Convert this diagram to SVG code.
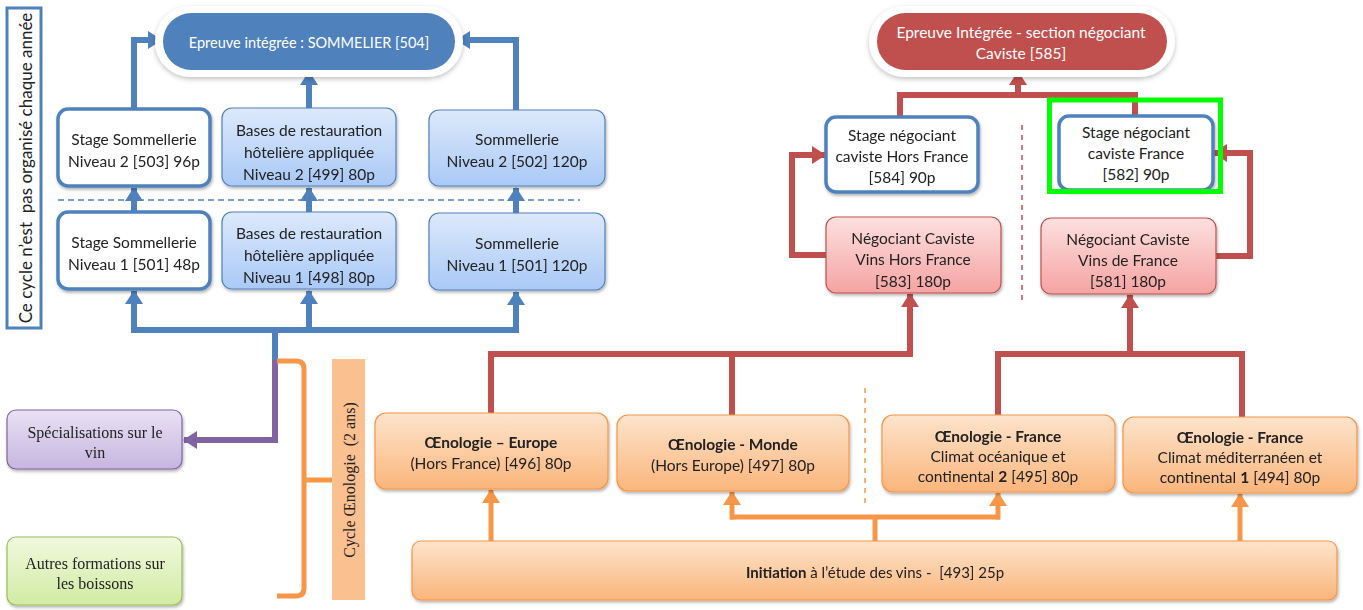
<svg xmlns="http://www.w3.org/2000/svg" width="1363" height="610" viewBox="0 0 1363 610">
<defs>
<linearGradient id="gBlue" x1="0" y1="0" x2="0" y2="1"><stop offset="0" stop-color="#dde9fb"/><stop offset="1" stop-color="#a9c9f6"/></linearGradient>
<linearGradient id="gPink" x1="0" y1="0" x2="0" y2="1"><stop offset="0" stop-color="#fde0e0"/><stop offset="1" stop-color="#f5a3a2"/></linearGradient>
<linearGradient id="gOrange" x1="0" y1="0" x2="0" y2="1"><stop offset="0" stop-color="#fde4cc"/><stop offset="1" stop-color="#fab57b"/></linearGradient>
<linearGradient id="gPurple" x1="0" y1="0" x2="0" y2="1"><stop offset="0" stop-color="#e9e2f3"/><stop offset="1" stop-color="#c6b5e0"/></linearGradient>
<linearGradient id="gGreen" x1="0" y1="0" x2="0" y2="1"><stop offset="0" stop-color="#f1f9df"/><stop offset="1" stop-color="#d0eba2"/></linearGradient>
<filter id="sh" x="-10%" y="-10%" width="120%" height="130%"><feDropShadow dx="1" dy="2" stdDeviation="1.5" flood-color="#000" flood-opacity="0.3"/></filter>
<filter id="shl" x="-10%" y="-20%" width="120%" height="150%"><feDropShadow dx="0" dy="2" stdDeviation="2.5" flood-color="#000" flood-opacity="0.25"/></filter>
<marker id="aB" viewBox="0 0 14 18" refX="13" refY="9" markerWidth="14" markerHeight="18" orient="auto" markerUnits="userSpaceOnUse"><path d="M0,0 L14,9 L0,18 z" fill="#4f81bd"/></marker>
<marker id="aR" viewBox="0 0 14 18" refX="13" refY="9" markerWidth="14" markerHeight="18" orient="auto" markerUnits="userSpaceOnUse"><path d="M0,0 L14,9 L0,18 z" fill="#c0504d"/></marker>
<marker id="aO" viewBox="0 0 14 18" refX="13" refY="9" markerWidth="14" markerHeight="18" orient="auto" markerUnits="userSpaceOnUse"><path d="M0,0 L14,9 L0,18 z" fill="#f79646"/></marker>
<marker id="aP" viewBox="0 0 14 18" refX="13" refY="9" markerWidth="14" markerHeight="18" orient="auto" markerUnits="userSpaceOnUse"><path d="M0,0 L14,9 L0,18 z" fill="#8064a2"/></marker>
</defs>
<style>
text{font-family:Lato,"Noto Sans","Liberation Sans",sans-serif;font-size:15.5px;fill:#222222;text-anchor:middle;dominant-baseline:central}
.serif{font-family:"Liberation Serif","DejaVu Serif",serif;font-size:16px}
.w{fill:#ffffff}
.b{font-weight:bold}
.stage{fill:#ffffff;stroke:#4f81bd;stroke-width:3.5}
.bl{fill:url(#gBlue);stroke:#4f81bd;stroke-width:1.2}
.pk{fill:url(#gPink);stroke:#c0504d;stroke-width:1.2}
.or{fill:url(#gOrange);stroke:#f79646;stroke-width:1.2}
.cB{fill:none;stroke:#4f81bd;stroke-width:6}
.cR{fill:none;stroke:#c0504d;stroke-width:6}
.cO{fill:none;stroke:#f79646;stroke-width:5}
.cP{fill:none;stroke:#8064a2;stroke-width:6}
</style>
<rect width="1363" height="610" fill="#ffffff"/>

<g id="label-cycle-annee">
<rect x="7" y="8" width="34" height="320" fill="#ffffff" stroke="#4f81bd" stroke-width="3"/>
<text transform="translate(25,168) rotate(-90)" xml:space="preserve" style="font-size:17px">Ce cycle n’est  pas organisé chaque année</text>
</g>

<g id="connectors">
<path class="cB" d="M134,109 V40 H161" marker-end="url(#aB)"/>
<path class="cB" d="M309,108 V72" marker-end="url(#aB)"/>
<path class="cB" d="M516,110 V40 H457" marker-end="url(#aB)"/>
<path class="cB" d="M134,212 V188" marker-end="url(#aB)"/>
<path class="cB" d="M309,212 V188" marker-end="url(#aB)"/>
<path class="cB" d="M516,213 V188" marker-end="url(#aB)"/>
<path class="cB" d="M275,362 V330"/>
<path class="cB" d="M134,330 H516"/>
<path class="cB" d="M134,333 V291" marker-end="url(#aB)"/>
<path class="cB" d="M309,333 V291" marker-end="url(#aB)"/>
<path class="cB" d="M516,333 V292" marker-end="url(#aB)"/>
<path class="cP" d="M275,360 V440 H184" marker-end="url(#aP)"/>
<path class="cO" d="M277,361 H296 Q304,361 304,369 V588 Q304,596 296,596 H277"/>
<path class="cO" d="M304,480 H332"/>
<path class="cR" d="M900,117 V95 H1135 V116"/>
<path class="cR" d="M1018,97 V72" marker-end="url(#aR)"/>
<path class="cR" d="M826,255 H792 V155 H825" marker-end="url(#aR)"/>
<path class="cR" d="M1216,256 H1250 V153 H1214" marker-end="url(#aR)"/>
<path class="cR" d="M491,413 V354 H910 V294" marker-end="url(#aR)"/>
<path class="cR" d="M732,415 V354"/>
<path class="cR" d="M998,415 V354 H1242 V417"/>
<path class="cR" d="M1130,357 V295" marker-end="url(#aR)"/>
<path class="cO" d="M491,541 V490" marker-end="url(#aO)"/>
<path class="cO" d="M875,541 V517"/>
<path class="cO" d="M732,519.5 V492" marker-end="url(#aO)"/>
<path class="cO" d="M998,519.5 V493" marker-end="url(#aO)"/>
<path class="cO" d="M730,517 H1000"/>
<path class="cO" d="M1240,541 V494" marker-end="url(#aO)"/>
<path d="M58,200 H580" fill="none" stroke="#4f81bd" stroke-width="1.5" stroke-dasharray="6 4"/>
<path d="M1022,125 V300" fill="none" stroke="#c0504d" stroke-width="1.5" stroke-dasharray="5 5"/>
<path d="M865,388 V505" fill="none" stroke="#f79646" stroke-width="1.5" stroke-dasharray="5 5"/>
</g>

<g id="epreuve-sommelier">
<rect x="155" y="6" width="308" height="71" rx="35.5" fill="#ffffff" filter="url(#shl)"/>
<rect x="163" y="13" width="292" height="57" rx="28.5" fill="#4f81bd"/>
<text class="w" x="309" y="42" style="font-size:14.5px">Epreuve intégrée : SOMMELIER [504]</text>
</g>

<g id="stage-sommellerie-2" filter="url(#sh)">
<rect class="stage" x="58" y="109" width="152" height="77" rx="10"/>
<text x="134" y="139">Stage Sommellerie</text>
<text x="134" y="161">Niveau 2 [503] 96p</text>
</g>
<g id="bases-2" filter="url(#sh)">
<rect class="bl" x="222" y="108" width="174" height="78" rx="10"/>
<text x="309" y="130">Bases de restauration</text>
<text x="309" y="152">hôtelière appliquée</text>
<text x="309" y="174">Niveau 2 [499] 80p</text>
</g>
<g id="sommellerie-2" filter="url(#sh)">
<rect class="bl" x="429" y="110" width="176" height="76" rx="10"/>
<text x="517" y="139">Sommellerie</text>
<text x="517" y="161">Niveau 2 [502] 120p</text>
</g>
<g id="stage-sommellerie-1" filter="url(#sh)">
<rect class="stage" x="58" y="212" width="152" height="77" rx="10"/>
<text x="134" y="242">Stage Sommellerie</text>
<text x="134" y="264">Niveau 1 [501] 48p</text>
</g>
<g id="bases-1" filter="url(#sh)">
<rect class="bl" x="222" y="212" width="174" height="77" rx="10"/>
<text x="309" y="233">Bases de restauration</text>
<text x="309" y="255">hôtelière appliquée</text>
<text x="309" y="277">Niveau 1 [498] 80p</text>
</g>
<g id="sommellerie-1" filter="url(#sh)">
<rect class="bl" x="429" y="213" width="176" height="77" rx="10"/>
<text x="517" y="243">Sommellerie</text>
<text x="517" y="265">Niveau 1 [501] 120p</text>
</g>

<g id="specialisations" filter="url(#sh)">
<rect x="7" y="410" width="175" height="59" rx="9" fill="url(#gPurple)" stroke="#8064a2" stroke-width="1.2"/>
<text class="serif" x="95" y="432">Spécialisations sur le</text>
<text class="serif" x="95" y="452">vin</text>
</g>
<g id="autres-formations" filter="url(#sh)">
<rect x="7" y="537" width="175" height="68" rx="9" fill="url(#gGreen)" stroke="#9bbb59" stroke-width="1.2"/>
<text class="serif" x="95" y="563">Autres formations sur</text>
<text class="serif" x="95" y="583">les boissons</text>
</g>

<g id="label-cycle-oenologie">
<rect x="332" y="359" width="33" height="241" fill="#fac090"/>
<text class="serif" transform="translate(349,480) rotate(-90)" xml:space="preserve" style="font-size:16px">Cycle Œnologie  (2 ans)</text>
</g>

<g id="epreuve-caviste">
<rect x="869" y="6" width="306" height="71" rx="35.5" fill="#ffffff" filter="url(#shl)"/>
<rect x="877" y="13" width="290" height="57" rx="28.5" fill="#c0504d"/>
<text class="w" x="1021" y="32">Epreuve Intégrée - section négociant</text>
<text class="w" x="1021" y="53">Caviste [585]</text>
</g>

<g id="stage-hors-france" filter="url(#sh)">
<rect class="stage" x="826" y="117" width="152" height="75" rx="10"/>
<text x="902" y="135">Stage négociant</text>
<text x="902" y="156">caviste Hors France</text>
<text x="902" y="177">[584] 90p</text>
</g>
<g id="stage-france">
<rect class="stage" x="1059" y="116" width="154" height="74" rx="10" filter="url(#sh)"/>
<text x="1136" y="132">Stage négociant</text>
<text x="1136" y="153">caviste France</text>
<text x="1136" y="174">[582] 90p</text>
<rect x="1049.5" y="100" width="171" height="91.5" fill="none" stroke="#00ff00" stroke-width="5"/>
</g>
<g id="negociant-hors-france" filter="url(#sh)">
<rect class="pk" x="826" y="217" width="175" height="76" rx="10"/>
<text x="913" y="238">Négociant Caviste</text>
<text x="913" y="259">Vins Hors France</text>
<text x="913" y="281">[583] 180p</text>
</g>
<g id="negociant-france" filter="url(#sh)">
<rect class="pk" x="1041" y="218" width="175" height="76" rx="10"/>
<text x="1128" y="239">Négociant Caviste</text>
<text x="1128" y="260">Vins de France</text>
<text x="1128" y="281">[581] 180p</text>
</g>

<g id="oeno-europe" filter="url(#sh)">
<rect class="or" x="375" y="413" width="233" height="76" rx="11"/>
<text class="b" x="491" y="442">Œnologie – Europe</text>
<text x="491" y="463">(Hors France) [496] 80p</text>
</g>
<g id="oeno-monde" filter="url(#sh)">
<rect class="or" x="617" y="415" width="232" height="76" rx="11"/>
<text class="b" x="733" y="444">Œnologie - Monde</text>
<text x="733" y="465">(Hors Europe) [497] 80p</text>
</g>
<g id="oeno-france-2" filter="url(#sh)">
<rect class="or" x="882" y="415" width="233" height="77" rx="11"/>
<text class="b" x="998" y="436">Œnologie - France</text>
<text x="998" y="456">Climat océanique et</text>
<text x="998" y="476">continental <tspan class="b">2</tspan> [495] 80p</text>
</g>
<g id="oeno-france-1" filter="url(#sh)">
<rect class="or" x="1123" y="417" width="234" height="76" rx="11"/>
<text class="b" x="1240" y="437">Œnologie - France</text>
<text x="1240" y="457">Climat méditerranéen et</text>
<text x="1240" y="477">continental <tspan class="b">1</tspan> [494] 80p</text>
</g>
<g id="initiation" filter="url(#sh)">
<rect class="or" x="412" y="541" width="925" height="59" rx="9"/>
<text x="875" y="572" xml:space="preserve" style="font-size:15px"><tspan class="b">Initiation</tspan> à l’étude des vins -  [493] 25p</text>
</g>
</svg>
